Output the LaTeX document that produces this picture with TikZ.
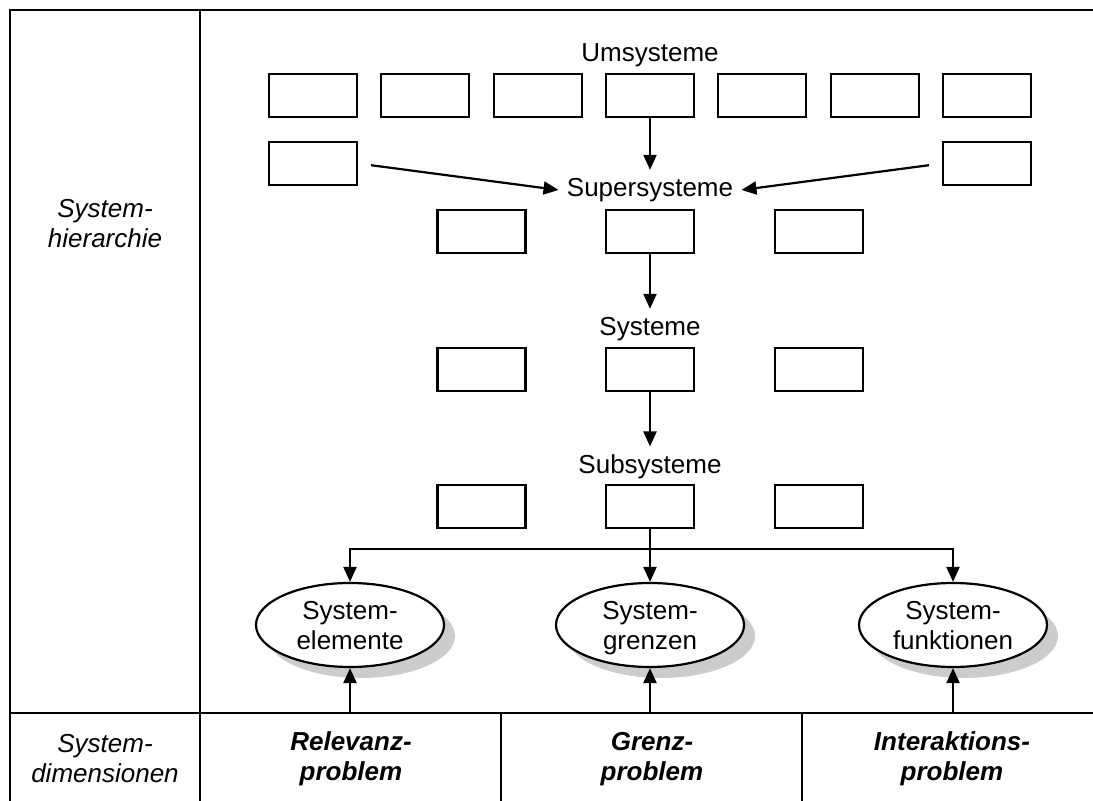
\documentclass[tikz,border=0pt]{standalone}
\usepackage{fontspec}
\setmainfont{Liberation Sans}
\usetikzlibrary{arrows.meta,shapes.geometric,shadows}

\begin{document}
\begin{tikzpicture}[x=0.5pt, y=-0.5pt,
  font=\fontsize{13}{15}\selectfont,
  box/.style={draw, line width=1.1pt, minimum width=44pt, minimum height=21.5pt, inner sep=0pt},
  level/.style={inner sep=4pt},
  topic/.style={draw, line width=1.1pt, fill=white, ellipse, minimum width=94pt, minimum height=42pt,
    inner sep=0pt, align=center, text depth=0pt,
    drop shadow={shadow xshift=5.5pt, shadow yshift=-5.5pt, fill=black!20, opacity=1}},
  flow/.style={-{Triangle[length=7.5pt,width=6.5pt]}, line width=1.1pt},
  rule/.style={line width=1.1pt},
  side/.style={align=center, font=\fontsize{13}{15}\selectfont\itshape},
  prob/.style={align=center, font=\fontsize{13}{15}\selectfont\bfseries\itshape}]
\useasboundingbox (0,0) rectangle (1093,801);
\draw[rule] (1093,10) -- (10,10) -- (10,801);
\draw[rule] (200,10) -- (200,801);
\draw[rule] (10,713) -- (1093,713);
\draw[rule] (501,713) -- (501,801);
\draw[rule] (802,713) -- (802,801);

\node[side] (hierlabel) at (105,224) {System-\\hierarchie};
\node[side] (dimlabel) at (105,759) {System-\\dimensionen};

\node[level] (umsys) at (650,55) {Umsysteme};
\node[box] (u1) at (313,95.5) {};
\node[box] (u2) at (425.3,95.5) {};
\node[box] (u3) at (537.7,95.5) {};
\node[box] (u4) at (650,95.5) {};
\node[box] (u5) at (762.3,95.5) {};
\node[box] (u6) at (874.7,95.5) {};
\node[box] (u7) at (987,95.5) {};
\node[box] (sl) at (313,163.5) {};
\node[box] (sr) at (987,163.5) {};

\node[level] (supsys) at (650,190) {Supersysteme};
\node[box] (p1) at (481.5,231.5) {};
\node[box] (p2) at (650,231.5) {};
\node[box] (p3) at (819,231.5) {};

\node[level] (sys) at (650,329) {Systeme};
\node[box] (s1) at (481.5,369.5) {};
\node[box] (s2) at (650,369.5) {};
\node[box] (s3) at (819,369.5) {};

\node[level] (subsys) at (650,467) {Subsysteme};
\node[box] (b1) at (481.5,506.5) {};
\node[box] (b2) at (650,506.5) {};
\node[box] (b3) at (819,506.5) {};

\coordinate (fork) at (650,549);
\node[topic] (elem) at (350,625) {System-\\elemente};
\node[topic] (grenz) at (650,625) {System-\\grenzen};
\node[topic] (funk) at (953,625) {System-\\funktionen};

\coordinate (foot1) at (350,713);
\coordinate (foot2) at (650,713);
\coordinate (foot3) at (953,713);
\node[prob] (relev) at (351,759) {Relevanz-\\problem};
\node[prob] (grenzp) at (652,759) {Grenz-\\problem};
\node[prob] (interp) at (952,759) {Interaktions-\\problem};

\draw[flow] (u4) -- (supsys);
\draw[flow, shorten <=6.5pt] (sl.east) -- (supsys.west);
\draw[flow, shorten <=6.5pt] (sr.west) -- (supsys.east);
\draw[flow] (p2) -- (sys);
\draw[flow] (s2) -- (subsys);
\draw[rule] (b2) -- (fork);
\draw[flow] (fork) -- (grenz);
\draw[flow] (fork) -| (elem);
\draw[flow] (fork) -| (funk);
\draw[flow] (foot1) -- (elem);
\draw[flow] (foot2) -- (grenz);
\draw[flow] (foot3) -- (funk);
\end{tikzpicture}
\end{document}
